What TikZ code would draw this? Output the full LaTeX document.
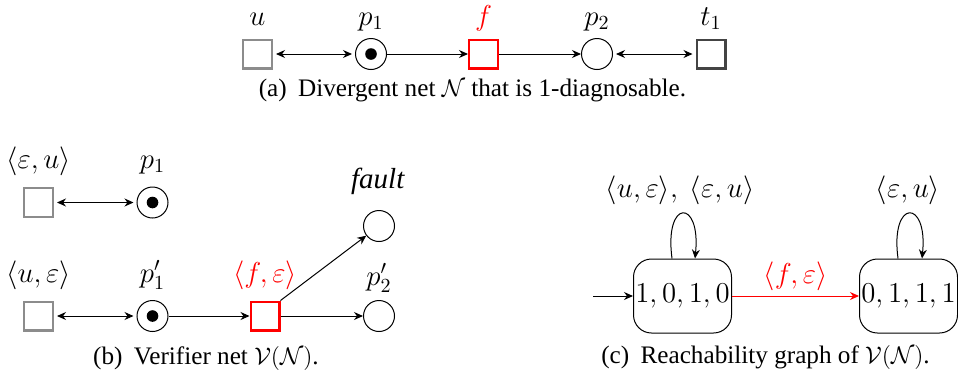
\documentclass[tikz,border=0pt]{standalone}
\usepackage{fontspec}
\setmainfont{Liberation Serif}
\usetikzlibrary{arrows.meta}
\definecolor{ugray}{HTML}{8C8C8C}
\definecolor{tgray}{HTML}{444444}
\begin{document}
\begin{tikzpicture}[x=0.5pt,y=-0.5pt,font=\fontsize{14.5}{17}\selectfont,
  place/.style={circle,draw,line width=0.5pt,minimum size=15.5pt,inner sep=0pt},
  trans/.style={rectangle,draw,line width=1.2pt,minimum size=14.3pt,inner sep=0pt},
  tok/.style={circle,fill,minimum size=5.8pt,inner sep=0pt},
  lab/.style={anchor=base,inner sep=0pt},
  captext/.style={anchor=base,inner sep=0pt,font=\fontsize{12.6}{15}\selectfont},
  arc/.style={-{Stealth[length=4.5pt,width=4pt]},line width=0.5pt},
  biarc/.style={{Stealth[length=4.5pt,width=4pt]}-{Stealth[length=4.5pt,width=4pt]},line width=0.5pt,shorten <=1.5pt,shorten >=1.5pt},
  state/.style={draw,rounded corners=9pt,minimum width=49pt,minimum height=37pt,line width=0.5pt,inner sep=0pt,font=\fontsize{14.5}{17}\selectfont}
]
\useasboundingbox (0,0) rectangle (958,381);

% ---------- (a) ----------
\node[trans,draw=ugray] (au) at (257.5,54) {};
\node[place] (ap1) at (371,54) {};
\node[tok] (ap1t) at (ap1) {};
\node[trans,draw=red] (af) at (483.5,54) {};
\node[place] (ap2) at (597,54) {};
\node[trans,draw=tgray] (at1) at (711,54) {};
\node[lab] (lau) at (257.5,25) {$u$};
\node[lab] (lap1) at (371,25) {$p_1$};
\node[lab,text=red] (laf) at (483.5,25) {$f$};
\node[lab] (lap2) at (597,25) {$p_2$};
\node[lab] (lat1) at (711,25) {$t_1$};
\draw[biarc] (au) -- (ap1);
\draw[arc] (ap1) -- (af);
\draw[arc] (af) -- (ap2);
\draw[biarc] (ap2) -- (at1);
\node[captext] (capa) at (472.5,96) {(a)\hspace{0.45em}Divergent net $\mathcal{N}$ that is 1-diagnosable.};

% ---------- (b) ----------
\node[trans,draw=ugray] (beu) at (38.5,202.5) {};
\node[place] (bp1) at (152.5,202.5) {};
\node[tok] (bp1t) at (bp1) {};
\node[place] (bfault) at (379,226) {};
\node[trans,draw=ugray] (bue) at (38.5,316) {};
\node[place] (bq1) at (152.5,316) {};
\node[tok] (bq1t) at (bq1) {};
\node[trans,draw=red] (bfe) at (265,316) {};
\node[place] (bq2) at (379,316) {};
\node[lab] (lbeu) at (38.5,168) {$\langle\varepsilon,u\rangle$};
\node[lab] (lbp1) at (152.5,168) {$p_1$};
\node[lab] (lbfault) at (378,188) {\textit{fault}};
\node[lab] (lbue) at (38.5,282) {$\langle u,\varepsilon\rangle$};
\node[lab] (lbq1) at (152.5,282) {$p_1'$};
\node[lab,text=red] (lbfe) at (265,282) {$\langle f,\varepsilon\rangle$};
\node[lab] (lbq2) at (379,285) {$p_2'$};
\draw[biarc] (beu) -- (bp1);
\draw[biarc] (bue) -- (bq1);
\draw[arc] (bq1) -- (bfe);
\draw[arc] (bfe) -- (bq2);
\draw[arc] (bfe.north east) -- (bfault);
\node[captext] (capb) at (206,364) {(b)\hspace{0.45em}Verifier net $\mathcal{V}(\mathcal{N})$.};

% ---------- (c) ----------
\node[state] (s1) at (682.5,296) {$1,0,1,0$};
\node[state] (s2) at (908.5,296) {$0,1,1,1$};
\coordinate (init) at (593,296);
\draw[arc] (init) -- (s1);
\draw[arc,draw=red,fill=red] (s1) -- node[above=-1pt,text=red] (lcfe) {$\langle f,\varepsilon\rangle$} (s2);
\draw[arc] ([xshift=-5.25pt]s1.north) .. controls +(-8,-60) and +(6,-60) .. ([xshift=6.25pt]s1.north);
\draw[arc] ([xshift=-5.25pt]s2.north) .. controls +(-8,-60) and +(6,-60) .. ([xshift=6.75pt]s2.north);
\node[lab] (lcl1) at (680,197) {$\langle u,\varepsilon\rangle,\ \langle\varepsilon,u\rangle$};
\node[lab] (lcl2) at (908,197) {$\langle\varepsilon,u\rangle$};
\node[captext] (capc) at (765.5,363) {(c)\hspace{0.45em}Reachability graph of $\mathcal{V}(\mathcal{N})$.};
\end{tikzpicture}
\end{document}
